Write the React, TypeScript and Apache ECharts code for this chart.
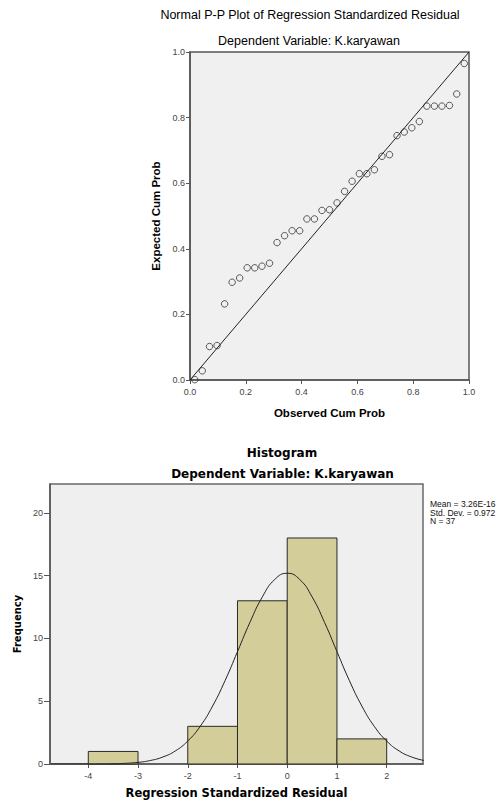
import React, { useEffect, useRef } from "react";
import * as echarts from "echarts";

// P-P plot data (observed cumulative probability, expected cumulative probability)
const observedCum = [
  0.017, 0.044, 0.070, 0.097, 0.124, 0.151, 0.178, 0.205, 0.232, 0.258,
  0.285, 0.312, 0.339, 0.366, 0.393, 0.419, 0.446, 0.473, 0.500, 0.527,
  0.554, 0.581, 0.607, 0.634, 0.661, 0.688, 0.715, 0.742, 0.768, 0.795,
  0.822, 0.849, 0.876, 0.903, 0.930, 0.956, 0.983,
];
const expectedCum = [
  0.001, 0.028, 0.102, 0.105, 0.232, 0.298, 0.311, 0.342, 0.342, 0.347,
  0.356, 0.419, 0.440, 0.455, 0.455, 0.491, 0.491, 0.517, 0.519, 0.540,
  0.575, 0.606, 0.629, 0.629, 0.641, 0.682, 0.687, 0.745, 0.756, 0.769,
  0.788, 0.835, 0.835, 0.835, 0.837, 0.872, 0.965,
];
const diagonalX = [0, 1];
const diagonalY = [0, 1];
const ppTicks = [0, 0.2, 0.4, 0.6, 0.8, 1.0];

// Histogram data
const binLow = [-4, -3, -2, -1, 0, 1];
const binHigh = [-3, -2, -1, 0, 1, 2];
const binCount = [1, 0, 3, 13, 18, 2];
const histXTicks = [-4, -3, -2, -1, 0, 1, 2];
const histYTicks = [0, 5, 10, 15, 20];

// Normal curve
const curveX = [
  -4.75, -4.5, -4.25, -4, -3.75, -3.5, -3.25, -3, -2.75, -2.5, -2.25, -2,
  -1.75, -1.5, -1.25, -1, -0.75, -0.5, -0.25, 0, 0.25, 0.5, 0.75, 1, 1.25,
  1.5, 1.75, 2, 2.25, 2.5, 2.75,
];
const curveY = [
  0.0, 0.0, 0.001, 0.003, 0.009, 0.023, 0.057, 0.13, 0.28, 0.56, 1.04, 1.83,
  3.0, 4.62, 6.64, 8.95, 11.28, 13.31, 14.7, 15.19, 14.7, 13.31, 11.28, 8.95,
  6.64, 4.62, 3.0, 1.83, 1.04, 0.56, 0.28,
];

const legendLines = ["Mean = 3.26E-16", "Std. Dev. = 0.972", "N = 37"];

const ARIAL = "'Liberation Sans', Arial, sans-serif";
const DEJAVU = "'DejaVu Sans', Verdana, sans-serif";

export default function App() {
  const ref = useRef<HTMLDivElement>(null);

  useEffect(() => {
    if (!ref.current) return;
    const chart = echarts.init(ref.current, null, { renderer: "svg" });

    const histData = binLow
      .map((lo, i) => [lo, binHigh[i], binCount[i]])
      .filter((d) => d[2] > 0);

    const option: any = {
      animation: false,
      backgroundColor: "#ffffff",
      graphic: [
        {
          type: "text",
          x: 310,
          y: 14.5,
          style: {
            text: "Normal P-P Plot of Regression Standardized Residual",
            fontFamily: ARIAL,
            fontSize: 12.5,
            fill: "#000",
            align: "center",
            verticalAlign: "middle",
          },
        },
        {
          type: "text",
          x: 309,
          y: 41,
          style: {
            text: "Dependent Variable: K.karyawan",
            fontFamily: ARIAL,
            fontSize: 12.5,
            fill: "#000",
            align: "center",
            verticalAlign: "middle",
          },
        },
        {
          type: "text",
          x: 282,
          y: 452.5,
          style: {
            text: "Histogram",
            fontFamily: DEJAVU,
            fontWeight: "bold",
            fontSize: 12,
            fill: "#000",
            align: "center",
            verticalAlign: "middle",
          },
        },
        {
          type: "text",
          x: 282.5,
          y: 474,
          style: {
            text: "Dependent Variable: K.karyawan",
            fontFamily: DEJAVU,
            fontWeight: "bold",
            fontSize: 12,
            fill: "#000",
            align: "center",
            verticalAlign: "middle",
          },
        },
        ...legendLines.map((t, i) => ({
          type: "text",
          x: 430,
          y: 504 + i * 8.7,
          style: {
            text: t,
            fontFamily: ARIAL,
            fontSize: 8.5,
            fill: "#111",
            align: "left",
            verticalAlign: "middle",
          },
        })),
      ],
      grid: [
        {
          left: 190,
          top: 52,
          width: 279,
          height: 328,
          show: true,
          backgroundColor: "#f0f0f0",
          borderColor: "#555",
          borderWidth: 1.5,
        },
        {
          left: 50,
          top: 484,
          width: 373,
          height: 280,
          show: true,
          backgroundColor: "#efefef",
          borderColor: "#6a6a6a",
          borderWidth: 1.5,
        },
      ],
      xAxis: [
        {
          type: "value",
          gridIndex: 0,
          min: 0,
          max: 1,
          interval: 0.2,
          name: "Observed Cum Prob",
          nameLocation: "middle",
          nameGap: 27,
          nameTextStyle: {
            fontFamily: ARIAL,
            fontWeight: "bold",
            fontSize: 11.5,
            color: "#000",
          },
          axisLine: {
            show: true,
            onZero: false,
            lineStyle: { color: "#555", width: 1.5 },
          },
          axisTick: {
            show: true,
            length: 4,
            lineStyle: { color: "#555" },
            customValues: ppTicks,
          },
          axisLabel: {
            margin: 7,
            fontFamily: ARIAL,
            fontSize: 9,
            color: "#444",
            customValues: ppTicks,
            formatter: (v: number) => v.toFixed(1),
          },
          splitLine: { show: false },
        },
        {
          type: "value",
          gridIndex: 1,
          min: -4.77,
          max: 2.73,
          name: "Regression Standardized Residual",
          nameLocation: "middle",
          nameGap: 23,
          nameTextStyle: {
            fontFamily: DEJAVU,
            fontWeight: "bold",
            fontSize: 11.5,
            color: "#000",
          },
          axisLine: {
            show: true,
            onZero: false,
            lineStyle: { color: "#555", width: 1.5 },
          },
          axisTick: {
            show: true,
            length: 4,
            lineStyle: { color: "#555" },
            customValues: histXTicks,
          },
          axisLabel: {
            margin: 7,
            fontFamily: ARIAL,
            fontSize: 9,
            color: "#444",
            customValues: histXTicks,
            formatter: (v: number) => String(v),
          },
          splitLine: { show: false },
        },
      ],
      yAxis: [
        {
          type: "value",
          gridIndex: 0,
          min: 0,
          max: 1,
          interval: 0.2,
          name: "Expected Cum Prob",
          nameLocation: "middle",
          nameGap: 22,
          nameRotate: 90,
          nameTextStyle: {
            fontFamily: ARIAL,
            fontWeight: "bold",
            fontSize: 11.5,
            color: "#000",
          },
          axisLine: {
            show: true,
            onZero: false,
            lineStyle: { color: "#555", width: 1.5 },
          },
          axisTick: {
            show: true,
            length: 4,
            lineStyle: { color: "#555" },
            customValues: ppTicks,
          },
          axisLabel: {
            margin: 5,
            fontFamily: ARIAL,
            fontSize: 9,
            color: "#444",
            customValues: ppTicks,
            formatter: (v: number) => v.toFixed(1),
          },
          splitLine: { show: false },
        },
        {
          type: "value",
          gridIndex: 1,
          min: 0,
          max: 22.3,
          name: "Frequency",
          nameLocation: "middle",
          nameGap: 26,
          nameRotate: 90,
          nameTextStyle: {
            fontFamily: DEJAVU,
            fontWeight: "bold",
            fontSize: 10,
            color: "#000",
          },
          axisLine: {
            show: true,
            onZero: false,
            lineStyle: { color: "#555", width: 1.5 },
          },
          axisTick: {
            show: true,
            length: 6,
            lineStyle: { color: "#555" },
            customValues: histYTicks,
          },
          axisLabel: {
            margin: 7,
            fontFamily: ARIAL,
            fontSize: 9,
            color: "#444",
            customValues: histYTicks,
            formatter: (v: number) => String(v),
          },
          splitLine: { show: false },
        },
      ],
      series: [
        {
          type: "line",
          xAxisIndex: 0,
          yAxisIndex: 0,
          data: diagonalX.map((x, i) => [x, diagonalY[i]]),
          symbol: "none",
          lineStyle: { color: "#222", width: 1 },
          silent: true,
        },
        {
          type: "scatter",
          xAxisIndex: 0,
          yAxisIndex: 0,
          data: observedCum.map((x, i) => [x, expectedCum[i]]),
          symbol: "circle",
          symbolSize: 6.5,
          itemStyle: {
            color: "rgba(0,0,0,0)",
            borderColor: "#333",
            borderWidth: 1,
          },
        },
        {
          type: "custom",
          xAxisIndex: 1,
          yAxisIndex: 1,
          data: histData,
          encode: { x: [0, 1], y: 2 },
          renderItem: (params: any, api: any) => {
            const lo = api.value(0);
            const hi = api.value(1);
            const c = api.value(2);
            const p1 = api.coord([lo, c]);
            const p2 = api.coord([hi, 0]);
            return {
              type: "rect",
              shape: {
                x: p1[0],
                y: p1[1],
                width: p2[0] - p1[0],
                height: p2[1] - p1[1],
              },
              style: { fill: "#d3ce99", stroke: "#2a2a2a", lineWidth: 1 },
            };
          },
        },
        {
          type: "line",
          xAxisIndex: 1,
          yAxisIndex: 1,
          data: curveX.map((x, i) => [x, curveY[i]]),
          symbol: "none",
          smooth: true,
          lineStyle: { color: "#222", width: 1 },
          silent: true,
        },
      ],
    };

    chart.setOption(option);
    return () => chart.dispose();
  }, []);

  return (
    <div
      ref={ref}
      style={{ position: "absolute", left: 0, top: 0, width: 504, height: 800 }}
    />
  );
}
